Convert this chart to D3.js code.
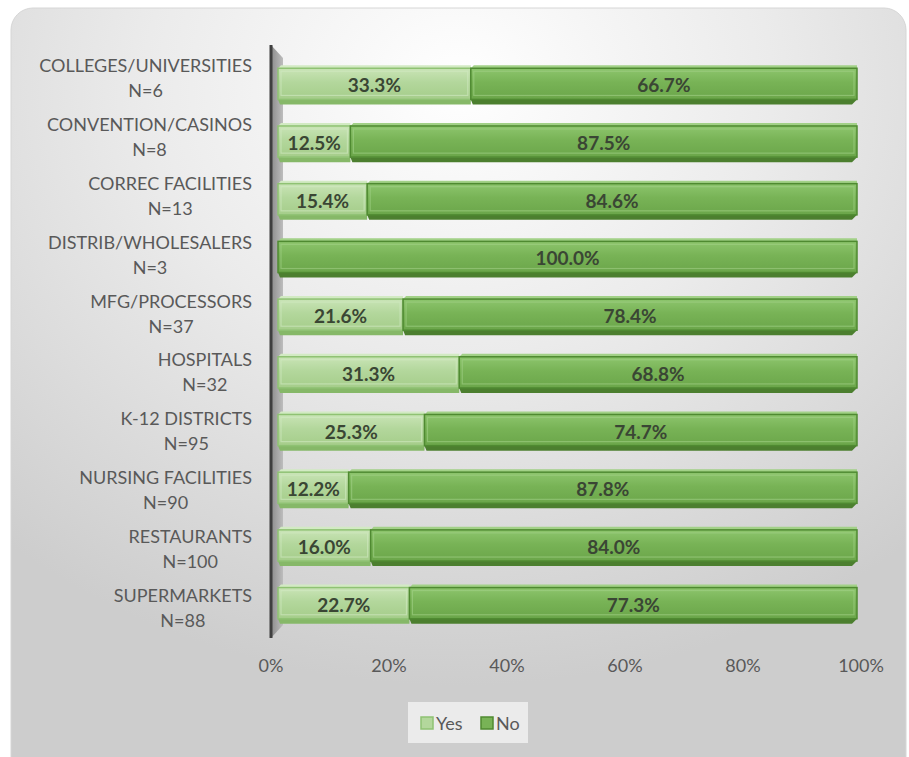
<!DOCTYPE html>
<html>
<head>
<meta charset="utf-8">
<script src="https://cdn.jsdelivr.net/npm/d3@7"></script>
<style>
  body { margin: 0; background: #fff; }
  svg { display: block; font-family: Lato, "Open Sans", sans-serif; }
</style>
</head>
<body>
<svg id="chart" width="909" height="757"></svg>
<script>
let categories = ["COLLEGES/UNIVERSITIES", "CONVENTION/CASINOS", "CORREC FACILITIES", "DISTRIB/WHOLESALERS",
  "MFG/PROCESSORS", "HOSPITALS", "K-12 DISTRICTS", "NURSING FACILITIES", "RESTAURANTS", "SUPERMARKETS"];
let counts = [6, 8, 13, 3, 37, 32, 95, 90, 100, 88];
let yesValues = [33.3, 12.5, 15.4, 0, 21.6, 31.3, 25.3, 12.2, 16.0, 22.7];
let noValues = [66.7, 87.5, 84.6, 100.0, 78.4, 68.8, 74.7, 87.8, 84.0, 77.3];
let tickValues = [0, 20, 40, 60, 80, 100];
let seriesNames = ["Yes", "No"];

let svg = d3.select("#chart");
let defs = svg.append("defs");

// panel background
let bg = defs.append("radialGradient").attr("id", "bgGrad")
  .attr("cx", "50%").attr("cy", "10%").attr("r", "78%");
bg.append("stop").attr("offset", "0%").attr("stop-color", "#ffffff");
bg.append("stop").attr("offset", "45%").attr("stop-color", "#ebebeb");
bg.append("stop").attr("offset", "100%").attr("stop-color", "#cdcdcd");

svg.append("rect")
  .attr("x", 11).attr("y", 8).attr("width", 895).attr("height", 770)
  .attr("rx", 22)
  .style("fill", "url(#bgGrad)")
  .style("stroke", "#d6d6d6");

let xScale = d3.scaleLinear().domain([0, 100]).range([278, 857]);
let xAxisScale = d3.scaleLinear().domain([0, 100]).range([271, 861]);
let yScale = d3.scaleBand().domain(categories).range([55, 632]).paddingInner(0.46).paddingOuter(0.23);
let labelScale = d3.scalePoint().domain(categories).range([72, 602]);

// back wall next to axis
let wallGrad = defs.append("linearGradient").attr("id", "wallGrad").attr("x1", "0").attr("x2", "1");
wallGrad.append("stop").attr("offset", "0%").attr("stop-color", "#8c8c8c");
wallGrad.append("stop").attr("offset", "100%").attr("stop-color", "#bdbdbd");
svg.append("polygon")
  .attr("points", [[271, 45], [283, 58], [283, 625], [271, 638]].map(p => p.join(",")).join(" "))
  .style("fill", "url(#wallGrad)");

svg.append("line")
  .attr("x1", 271).attr("x2", 271).attr("y1", 45).attr("y2", 638)
  .style("stroke", "#3f3f3f").style("stroke-width", 3);

let colors = {
  Yes: { top: "#c9e4b6", mid: "#b3d79c", bot: "#a5cd8a", light: "#d2eac3", dark: "#86b868", edge: "#8fc273" },
  No: { top: "#8dc56d", mid: "#78b356", bot: "#6ba64a", light: "#a2d187", dark: "#4c7f2f", edge: "#4f8a31" }
};

seriesNames.forEach(function(s) {
  let gr = defs.append("linearGradient").attr("id", "face" + s).attr("x1", "0").attr("x2", "0").attr("y1", "0").attr("y2", "1");
  gr.append("stop").attr("offset", "0%").attr("stop-color", colors[s].top);
  gr.append("stop").attr("offset", "45%").attr("stop-color", colors[s].mid);
  gr.append("stop").attr("offset", "100%").attr("stop-color", colors[s].bot);
});

let segments = [];
categories.forEach(function(c, i) {
  segments.push({ cat: c, series: "Yes", x0: 0, x1: yesValues[i], last: yesValues[i] >= 100 });
  segments.push({ cat: c, series: "No", x0: yesValues[i], x1: yesValues[i] + noValues[i], last: true });
});

let bars = svg.append("g");
let bh = yScale.bandwidth();
let depth = 5;

segments.filter(d => d.x1 > d.x0).forEach(function(d) {
  let col = colors[d.series];
  let x0 = xScale(d.x0), x1 = xScale(Math.min(d.x1, 100));
  let y = yScale(d.cat);
  let g = bars.append("g");
  // top face
  g.append("polygon")
    .attr("points", [[x0, y], [x0 + 3, y - 3], [x1, y - 3], [x1, y]].map(p => p.join(",")).join(" "))
    .style("fill", col.light);
  // bottom (shadow) face
  g.append("polygon")
    .attr("points", [[x0, y + bh], [x1, y + bh], [d.last ? x1 - depth : x1, y + bh + depth], [x0 + 2, y + bh + depth]].map(p => p.join(",")).join(" "))
    .style("fill", col.dark);
  // front face
  g.append("rect")
    .attr("x", x0).attr("y", y).attr("width", x1 - x0).attr("height", bh)
    .style("fill", "url(#face" + d.series + ")")
    .style("stroke", col.edge).style("stroke-width", 1.5);
  // bevel highlight
  g.append("rect")
    .attr("x", x0 + 3).attr("y", y + 3).attr("width", Math.max(0, x1 - x0 - 6)).attr("height", bh - 7)
    .style("fill", "none")
    .style("stroke", col.light).style("stroke-width", 1.2).style("opacity", 0.6);
  g.append("text")
    .attr("x", (x0 + x1) / 2).attr("y", y + bh / 2 + 1)
    .attr("text-anchor", "middle").attr("dominant-baseline", "central")
    .style("font-weight", "bold").style("font-size", "19px").style("fill", "#3a4634")
    .text((d.x1 - d.x0).toFixed(1) + "%");
});

// category labels, two lines centered in a right-aligned block
let labels = svg.append("g").style("font-size", "18px").style("fill", "#595959");
categories.forEach(function(c, i) {
  let by = labelScale(c);
  let t1 = labels.append("text").attr("y", by).attr("text-anchor", "middle").text(c);
  let t2 = labels.append("text").attr("y", by + 25).attr("text-anchor", "middle").text("N=" + counts[i]);
  let w = Math.max(t1.node().getComputedTextLength(), t2.node().getComputedTextLength());
  t1.attr("x", 252 - w / 2);
  t2.attr("x", 252 - w / 2);
});

// x axis labels
svg.append("g").selectAll("text").data(tickValues).join("text")
  .attr("x", d => xAxisScale(d)).attr("y", 665)
  .attr("text-anchor", "middle").attr("dominant-baseline", "central")
  .style("font-size", "18px").style("fill", "#595959")
  .text(d => d + "%");

// legend
let legend = svg.append("g");
legend.append("rect").attr("x", 408).attr("y", 702).attr("width", 120).attr("height", 41).style("fill", "#ebebeb");
let legendX = [421, 481];
seriesNames.forEach(function(s, i) {
  legend.append("rect")
    .attr("x", legendX[i]).attr("y", 717).attr("width", 12).attr("height", 12)
    .style("fill", colors[s].mid).style("stroke", colors[s].edge).style("stroke-width", 1.5);
  legend.append("text")
    .attr("x", legendX[i] + 15).attr("y", 723).attr("dominant-baseline", "central")
    .style("font-size", "18px").style("fill", "#595959")
    .text(s);
});
</script>
</body>
</html>
